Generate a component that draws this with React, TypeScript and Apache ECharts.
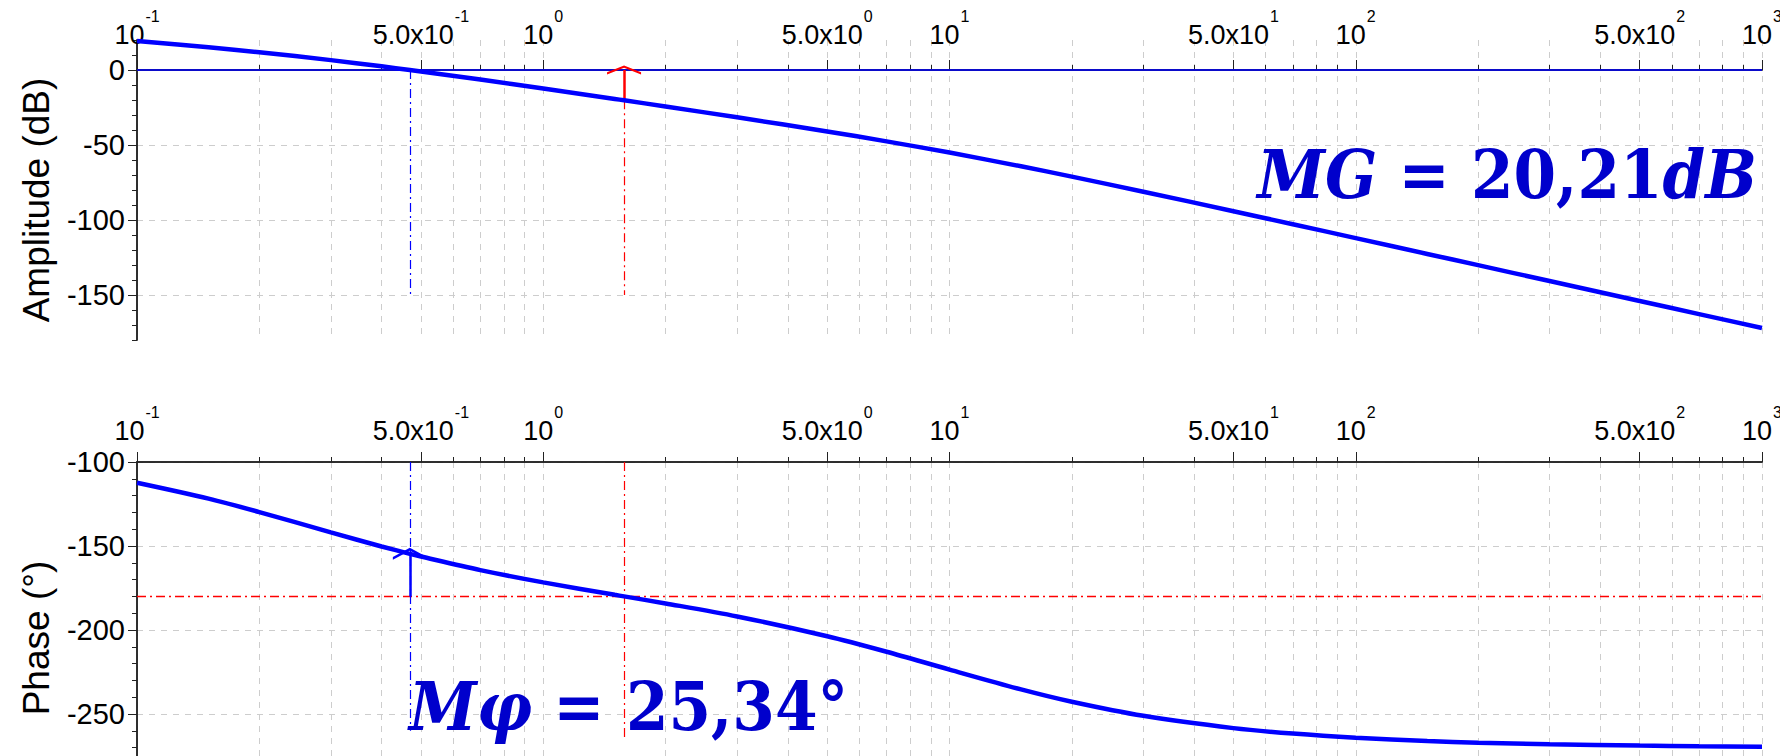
import React, { useEffect, useRef } from "react";
import * as echarts from "echarts";

// Open-loop frequency response samples (rad/s, dB, degrees)
const freqs = [0.1, 0.15, 0.2, 0.3, 0.4, 0.4695, 0.5, 0.7, 1, 1.5, 1.581, 2, 3, 5, 7, 10, 15, 20, 30, 50, 70, 100, 150, 200, 300, 500, 700, 1000];
const amplitudeDb = [19.36, 15.14, 11.83, 6.58, 2.44, 0.0, -0.98, -6.39, -12.35, -19.3, -20.21, -24.32, -31.53, -40.98, -47.58, -55.05, -64.2, -71.07, -81.12, -94.15, -102.83, -112.08, -122.62, -130.11, -140.67, -153.98, -162.74, -172.04];
const phaseDeg = [-112.37, -121.82, -129.81, -141.91, -150.28, -154.66, -156.29, -164.35, -171.67, -179.07, -180.0, -184.18, -191.94, -203.71, -212.94, -223.57, -235.36, -242.71, -251.09, -258.4, -261.67, -264.15, -266.09, -267.07, -268.04, -268.82, -269.16, -269.42];

// Stability margins
const gainCrossover = 0.4695; // rad/s, |G| = 0 dB
const phaseCrossover = 1.581; // rad/s, arg G = -180°
const gainMarginDb = 20.21;
const phaseMarginDeg = 25.34;
const criticalPhase = -180;

// Axis ticks
const freqRange = [0.1, 1000];
const labelledFreqs = [0.1, 0.5, 1, 5, 10, 50, 100, 500, 1000];
const decadeMantissas = [1, 2, 3, 4, 5, 6, 7, 8, 9];
const ampRange = [-180, 20];
const ampMajorTicks = [-150, -100, -50, 0];
const phaseRange = [-275, -100];
const phaseMajorTicks = [-250, -200, -150, -100];
const minorStep = 10;

const lg = (f: number) => Math.log10(f);

const minorFreqs: number[] = [];
for (let n = -1; n <= 2; n++) {
  for (const k of decadeMantissas) minorFreqs.push(k * Math.pow(10, n));
}
minorFreqs.push(1000);

const stepsBetween = (lo: number, hi: number, step: number) => {
  const out: number[] = [];
  for (let v = Math.ceil(lo / step) * step; v <= hi + 1e-9; v += step) out.push(v);
  return out;
};

const SANS = '"Liberation Sans", Arial, sans-serif';
const MATH_FONT = '"DejaVu Serif Condensed", "DejaVu Serif", serif';
const AXIS_COLOR = "#222";
const GRID_COLOR = "#cdcdcd";
const CURVE = "#0000ff";
const RED = "#ff0000";
const NOTE = "#0000cc";
const DASH_DOT = [9, 4, 2, 4];
const CHEVRON = "path://M0,8 L12,0 L24,8 L24,10.5 L12,2.5 L0,10.5 Z";

const freqLabel = (v: number) => {
  const n = Math.floor(v + 1e-6);
  const m = Math.round(Math.pow(10, v - n));
  return m === 1 ? `{b|10}{s|${n}}` : `{b|${m}.0x10}{s|${n}}`;
};

const freqAxes = (gridIndex: number, onZero: boolean, labelMargin: number) => [
  {
    type: "value",
    gridIndex,
    min: lg(freqRange[0]),
    max: lg(freqRange[1]),
    position: "top",
    axisLine: { show: true, onZero, lineStyle: { color: AXIS_COLOR, width: 1.5 } },
    axisTick: { show: true, customValues: minorFreqs.map(lg), length: 5, lineStyle: { color: AXIS_COLOR } },
    axisLabel: { show: false },
    splitLine: { show: true, lineStyle: { color: GRID_COLOR, type: [6, 6], width: 1 } },
  },
  {
    type: "value",
    gridIndex,
    min: lg(freqRange[0]),
    max: lg(freqRange[1]),
    position: "top",
    axisLine: { show: true, onZero, lineStyle: { color: AXIS_COLOR, width: 1.5 } },
    axisTick: { show: true, customValues: labelledFreqs.map(lg), length: 10, lineStyle: { color: AXIS_COLOR } },
    axisLabel: {
      show: true,
      customValues: labelledFreqs.map(lg),
      margin: labelMargin,
      formatter: freqLabel,
      rich: {
        b: { fontFamily: SANS, fontSize: 27, lineHeight: 27, color: "#000", verticalAlign: "bottom" },
        s: { fontFamily: SANS, fontSize: 16, lineHeight: 16, color: "#000", verticalAlign: "bottom", padding: [0, 0, 24, 1] },
      },
    },
    splitLine: { show: false },
  },
];

const levelAxes = (gridIndex: number, range: number[], major: number[], name: string, namePadding: number[]) => [
  {
    type: "value",
    gridIndex,
    min: range[0],
    max: range[1],
    position: "left",
    axisLine: { show: true, onZero: false, lineStyle: { color: AXIS_COLOR, width: 1.5 } },
    axisTick: { show: true, customValues: stepsBetween(range[0], range[1], minorStep), length: 5, lineStyle: { color: AXIS_COLOR } },
    axisLabel: { show: false },
    splitLine: { show: false },
  },
  {
    type: "value",
    gridIndex,
    min: range[0],
    max: range[1],
    position: "left",
    name,
    nameLocation: "middle",
    nameGap: 82,
    nameTextStyle: { fontFamily: SANS, fontSize: 37, color: "#000", padding: namePadding },
    axisLine: { show: true, onZero: false, lineStyle: { color: AXIS_COLOR, width: 1.5 } },
    axisTick: { show: true, customValues: major, length: 9, lineStyle: { color: AXIS_COLOR } },
    axisLabel: { show: true, customValues: major, margin: 12, fontFamily: SANS, fontSize: 29, color: "#000" },
    splitLine: { show: true, lineStyle: { color: GRID_COLOR, type: [6, 6], width: 1 } },
  },
];

const markLineBase = { silent: true, symbol: "none", label: { show: false }, emphasis: { disabled: true } };

const noteRich = {
  i: { fontFamily: MATH_FONT, fontStyle: "italic", fontWeight: "bold", fontSize: 68, fill: NOTE },
  n: { fontFamily: MATH_FONT, fontWeight: "bold", fontSize: 68, fill: NOTE },
};

const decimalComma = (v: number) => v.toFixed(2).replace(".", ",");

export default function App() {
  const ref = useRef<HTMLDivElement>(null);

  useEffect(() => {
    if (!ref.current) return;
    const chart = echarts.init(ref.current, undefined, { renderer: "svg" });
    const xc = lg(gainCrossover);
    const xp = lg(phaseCrossover);

    chart.setOption({
      animation: false,
      backgroundColor: "#fff",
      grid: [
        { left: 137, right: 18, top: 40, height: 300, outerBoundsMode: "none", containLabel: false },
        { left: 137, right: 18, top: 462, bottom: 0, outerBoundsMode: "none", containLabel: false },
      ],
      xAxis: [...freqAxes(0, true, -8), ...freqAxes(1, false, 18)],
      yAxis: [
        ...levelAxes(0, ampRange, ampMajorTicks, "Amplitude (dB)", [0, 20, 0, 0]),
        ...levelAxes(1, phaseRange, phaseMajorTicks, "Phase (°)", [0, 58, 0, 0]),
      ],
      series: [
        {
          type: "line",
          name: "amplitude",
          xAxisIndex: 0,
          yAxisIndex: 0,
          data: freqs.map((f, i) => [lg(f), amplitudeDb[i]]),
          showSymbol: false,
          smooth: 0.3,
          lineStyle: { color: CURVE, width: 4.5 },
          z: 5,
          markLine: {
            ...markLineBase,
            data: [
              { yAxis: 0, lineStyle: { color: CURVE, width: 1.5, type: "solid" } },
              [{ coord: [xc, 0], lineStyle: { color: CURVE, width: 1.2, type: DASH_DOT } }, { coord: [xc, ampMajorTicks[0]] }],
              [{ coord: [xp, -gainMarginDb], lineStyle: { color: RED, width: 1.2, type: DASH_DOT } }, { coord: [xp, ampMajorTicks[0]] }],
              [
                { coord: [xp, -gainMarginDb], lineStyle: { color: RED, width: 2.5, type: "solid" }, symbol: "none" },
                { coord: [xp, 0], symbol: CHEVRON, symbolSize: [34, 9] },
              ],
            ],
          },
        },
        {
          type: "line",
          name: "phase",
          xAxisIndex: 2,
          yAxisIndex: 2,
          data: freqs.map((f, i) => [lg(f), phaseDeg[i]]),
          showSymbol: false,
          smooth: 0.3,
          lineStyle: { color: CURVE, width: 4.5 },
          z: 5,
          markLine: {
            ...markLineBase,
            data: [
              { yAxis: criticalPhase, lineStyle: { color: RED, width: 1.3, type: DASH_DOT } },
              [{ coord: [xc, phaseRange[1]], lineStyle: { color: CURVE, width: 1.2, type: DASH_DOT } }, { coord: [xc, -260] }],
              [{ coord: [xp, phaseRange[1]], lineStyle: { color: RED, width: 1.2, type: DASH_DOT } }, { coord: [xp, -265] }],
              [
                { coord: [xc, criticalPhase], lineStyle: { color: CURVE, width: 2.5, type: "solid" }, symbol: "none" },
                { coord: [xc, criticalPhase + phaseMarginDeg], symbol: CHEVRON, symbolSize: [34, 12] },
              ],
            ],
          },
        },
      ],
      graphic: [
        {
          type: "text",
          x: 1757,
          y: 174,
          z: 20,
          style: {
            text: `{i|MG}{n| = ${decimalComma(gainMarginDb)}}{i|dB}`,
            align: "right",
            verticalAlign: "middle",
            rich: noteRich,
          },
        },
        {
          type: "text",
          x: 409,
          y: 706,
          z: 20,
          style: {
            text: `{i|Mφ}{n| = ${decimalComma(phaseMarginDeg)}°}`,
            align: "left",
            verticalAlign: "middle",
            rich: noteRich,
          },
        },
      ],
    });

    return () => chart.dispose();
  }, []);

  return <div ref={ref} style={{ position: "fixed", left: 0, top: 0, width: 1780, height: 756, background: "#fff" }} />;
}
